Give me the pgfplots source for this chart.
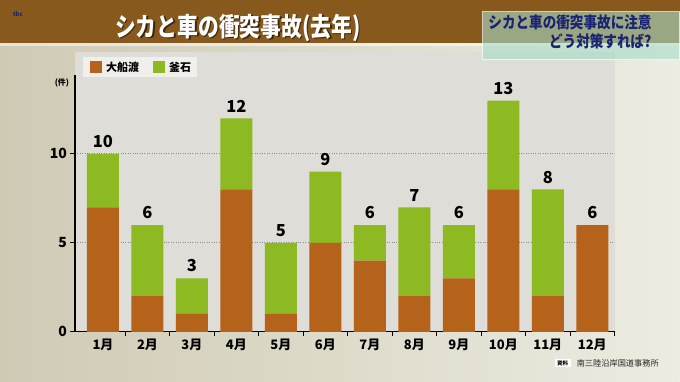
\documentclass[border=0pt]{standalone}
\usepackage{pgfplots}
\pgfplotsset{compat=1.18}
\usepackage{pgfplotstable}
\usepackage{fontspec}
\newfontfamily\jp{Noto Sans CJK JP}
\definecolor{oc}{HTML}{B5621A}
\definecolor{kc}{HTML}{8DB922}
\definecolor{hdr}{HTML}{87591C}
\definecolor{bgL}{HTML}{CFCAB4}
\definecolor{bgR}{HTML}{EDECE2}
\definecolor{panel}{HTML}{DEDDD7}
\definecolor{navy}{HTML}{1B2470}
\definecolor{aqua}{HTML}{A6DCC8}
\pgfplotstableread{
x osa kama total
0 7 3 10
1 2 4 6
2 1 2 3
3 8 4 12
4 1 4 5
5 5 4 9
6 4 2 6
7 2 5 7
8 3 3 6
9 8 5 13
10 2 6 8
11 6 0 6
}\data
\pgfplotsset{geom/.style={
  at={(75pt,50pt)}, anchor=south west,
  scale only axis, width=540pt, height=257pt,
  xmin=-0.63, xmax=11.5, ymin=0, ymax=14.44, clip=false}}
\begin{document}
\begin{tikzpicture}[x=1pt,y=1pt]
% background
\shade[left color=bgL, right color=bgR] (0,0) rectangle (680,382);
\fill[hdr] (0,339) rectangle (680,382);
\fill[white,opacity=0.5] (0,336) rectangle (680,339);
\fill[panel] (75,50) rectangle (615,330);
% logo
\node[font=\jp\bfseries\fontsize{6}{6}\selectfont, text=navy] at (18,368) {tbc};
% title
\node[font=\jp\bfseries\fontsize{26}{26}\selectfont, text=black, opacity=0.55, xscale=0.8] at (239.5,352.5) {シカと車の衝突事故(去年)};
\node[font=\jp\bfseries\fontsize{26}{26}\selectfont, text=white, xscale=0.8] at (238,354) {シカと車の衝突事故(去年)};
% right box
\fill[aqua, opacity=0.6] (483,322) rectangle (680,370);
\draw[white, opacity=0.7, line width=1pt] (483,322) rectangle (680,370);
\node[font=\jp\bfseries\fontsize{16}{16}\selectfont, text=navy, xscale=0.85, anchor=east] at (655,360) {シカと車の衝突事故に注意};
\node[font=\jp\bfseries\fontsize{16}{16}\selectfont, text=navy, xscale=0.85, anchor=east] at (655,341) {どう対策すれば?};
% legend
\fill[white,opacity=0.55] (83,305) rectangle (197,325);
\fill[oc] (90,309) rectangle (102,321);
\node[font=\jp\bfseries\fontsize{11}{11}\selectfont, anchor=west, inner sep=0] at (106,315) {大船渡};
\fill[kc] (153,309) rectangle (165,321);
\node[font=\jp\bfseries\fontsize{11}{11}\selectfont, anchor=west, inner sep=0] at (169,315) {釜石};
% unit
\node[font=\jp\bfseries\fontsize{8}{8}\selectfont] at (62,299) {(件)};
% source
\fill[white] (555,15) rectangle (571,22.5);
\node[font=\jp\bfseries\fontsize{5.5}{5.5}\selectfont, inner sep=0] at (563,18.7) {資料};
\node[font=\jp\fontsize{8.2}{8.2}\selectfont, anchor=west, inner sep=0, text=black!85] at (577,18.7) {南三陸沿岸国道事務所};
\begin{axis}[geom,
  axis x line=bottom, axis y line=left,
  axis line style={-, line width=1.4pt, black},
  ybar stacked, bar width=32pt,
  /pgf/number format/assume math mode=true,
  tick align=outside,
  xtick={0.5,1.5,...,11.5}, xticklabels={},
  major tick length=4.5pt,
  tick style={black, line width=1pt},
  extra x ticks={0,1,...,11},
  extra x tick labels={1月,2月,3月,4月,5月,6月,7月,8月,9月,10月,11月,12月},
  extra x tick style={major tick length=0pt, grid=none},
  xticklabel style={font=\jp\bfseries\fontsize{13}{13}\selectfont, anchor=center, yshift=-13pt},
  ytick={0,5,10}, yticklabels={0,5,10},
  yticklabel style={font=\jp\bfseries\fontsize{14}{14}\selectfont},
  ymajorgrids, grid style={dotted, black!45, line width=1pt},
]
\addplot[fill=oc, draw=none] table[x=x,y=osa]{\data};
\addplot[fill=kc, draw=none] table[x=x,y=kama]{\data};
\end{axis}
\begin{axis}[geom, hide axis]
\addplot[draw=none, mark=none, point meta=explicit,
  nodes near coords={\pgfmathprintnumber[assume math mode=true]{\pgfplotspointmeta}},
  every node near coord/.append style={font=\jp\bfseries\fontsize{16.5}{16.5}\selectfont, anchor=south, inner sep=0pt, yshift=6pt, text=black}]
  table[x=x,y=total,meta=total]{\data};
\end{axis}
\end{tikzpicture}
\end{document}
